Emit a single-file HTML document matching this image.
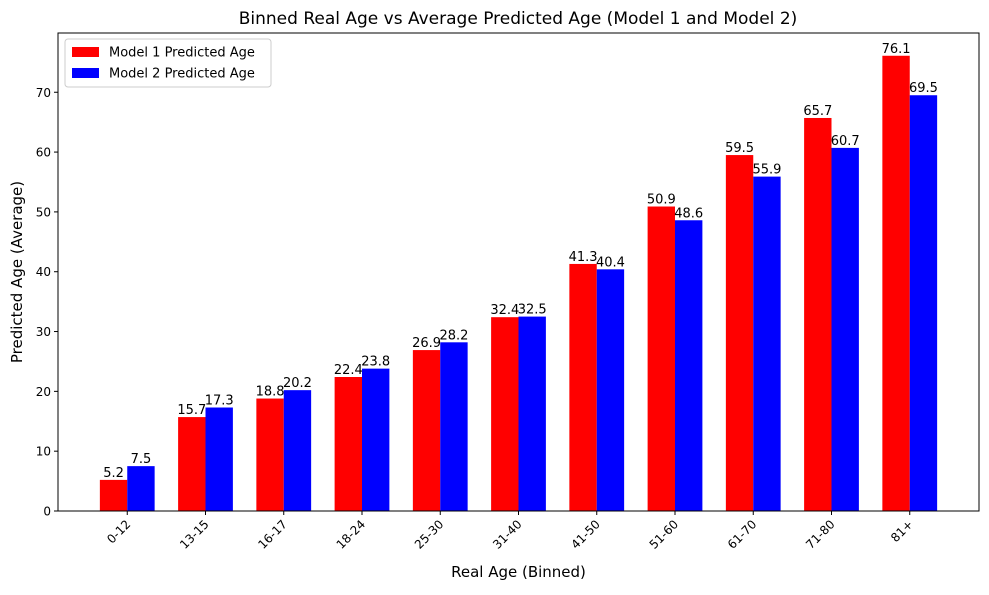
<!DOCTYPE html>
<html><head><meta charset="utf-8"><style>
body{margin:0;background:#fff;font-family:"Liberation Sans","DejaVu Sans",sans-serif;}
svg text{font-family:"DejaVu Sans","Liberation Sans",sans-serif;}
</style></head><body>
<svg id="chart" width="989" height="590" xmlns="http://www.w3.org/2000/svg"></svg>
<script>
const categories=["0-12","13-15","16-17","18-24","25-30","31-40","41-50","51-60","61-70","71-80","81+"];
const model1=[5.2,15.7,18.8,22.4,26.9,32.4,41.3,50.9,59.5,65.7,76.1];
const model2=[7.5,17.3,20.2,23.8,28.2,32.5,40.4,48.6,55.9,60.7,69.5];
const yTicks=[0,10,20,30,40,50,60,70];
const NS="http://www.w3.org/2000/svg";
const svg=document.getElementById('chart');
const L=58,R=979,T=33,B=511;
const maxV=Math.max(...model1,...model2);
const yMax=maxV*1.05;
const w=0.35,xmin=-w-0.05*(categories.length-1+2*w),xmax=categories.length-1+w+0.05*(categories.length-1+2*w);
const xs=v=>L+(v-xmin)/(xmax-xmin)*(R-L);
const ys=v=>B-v/yMax*(B-T);
function el(tag,attrs,parent){const e=document.createElementNS(NS,tag);for(const k in attrs)e.setAttribute(k,attrs[k]);(parent||svg).appendChild(e);return e;}
function txt(s,attrs){const e=el('text',attrs);e.textContent=s;return e;}
let t=txt("Binned Real Age vs Average Predicted Age (Model 1 and Model 2)",{x:518,y:24,'text-anchor':'middle','font-size':17});

const series=[[model1,'#ff0000',-1,'model1'],[model2,'#0000ff',0,'model2']];
categories.forEach((c,i)=>{
  series.forEach(([vals,col,off,nm])=>{
    const x0=xs(i+off*w),x1=xs(i+(off+1)*w);
    const r=el('rect',{x:x0,y:ys(vals[i]),width:x1-x0,height:B-ys(vals[i]),fill:col});
    
    
    const l=txt(vals[i].toFixed(1),{x:(x0+x1)/2,y:ys(vals[i])-3,'text-anchor':'middle','font-size':13});
    
    
  });
  const x=xs(i);
  el('line',{x1:x,x2:x,y1:B,y2:B+4,stroke:'#000'});
  const tl=txt(c,{x:0,y:0,'text-anchor':'end','font-size':12,transform:`translate(${x+4},${B+14}) rotate(-45)`});
  
  
});
yTicks.forEach(v=>{
  const y=ys(v);
  el('line',{x1:L-4,x2:L,y1:y,y2:y,stroke:'#000'});
  const tl=txt(v,{x:L-7,y:y+4.5,'text-anchor':'end','font-size':12});
  
  
});
const fr=el('rect',{x:L,y:T,width:R-L,height:B-T,fill:'none',stroke:'#000','stroke-width':1});

t=txt("Real Age (Binned)",{x:(L+R)/2,y:577,'text-anchor':'middle','font-size':15});

t=txt("Predicted Age (Average)",{x:0,y:0,'text-anchor':'middle','font-size':15,transform:`translate(22,${(T+B)/2}) rotate(-90)`});

const lg=el('g',{});

el('rect',{x:65,y:39,width:206,height:48,fill:'#fff',stroke:'#ccc',rx:3},lg);
[['Model 1 Predicted Age','#ff0000',52],['Model 2 Predicted Age','#0000ff',73]].forEach(([s,c,y])=>{
  const g=el('g',{},lg);
  
  el('rect',{x:72,y:y-5,width:27,height:10,fill:c},g);
  const e=el('text',{x:109,y:y+4.5,'font-size':13},g);e.textContent=s;
});
</script>
</body></html>
